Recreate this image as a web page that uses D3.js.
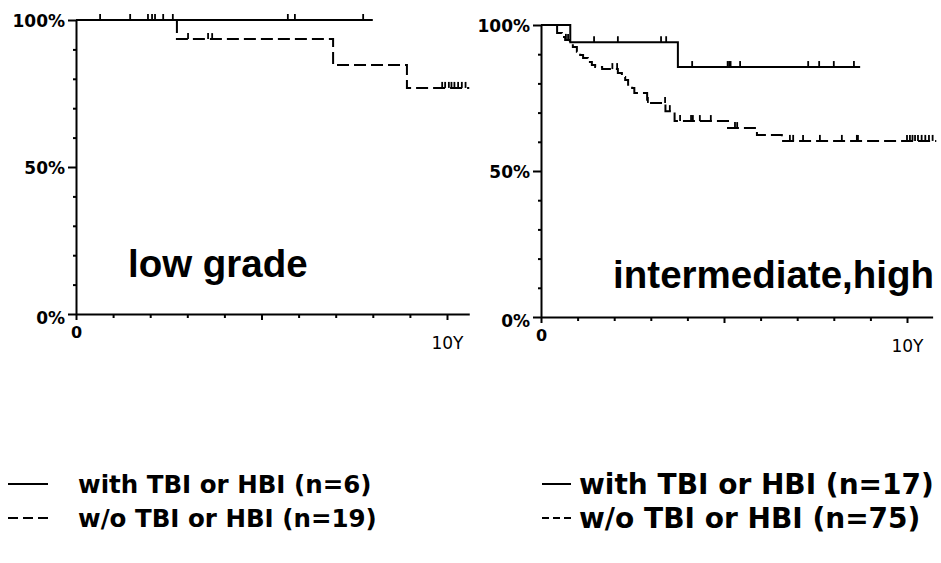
<!DOCTYPE html>
<html>
<head>
<meta charset="utf-8">
<script src="https://cdn.jsdelivr.net/npm/d3@7"></script>
<style>
  body { margin: 0; background: #fff; }
  svg { display: block; }
</style>
</head>
<body>
<div id="chart"></div>
<script>
// survival curves (time in years, survival in %)
const lowWithT = [0, 8.0];
const lowWithS = [100, 100];
const lowWithCensor = [1.46, 2.05, 5.71, 5.90, 7.74];

const lowWoT = [0, 2.72, 6.93, 8.92, 10.6];
const lowWoS = [100, 93.5, 84.7, 76.9, 76.9];
const lowWoCensor = [0.65, 1.94, 2.13, 2.35, 2.61, 3.02, 3.56, 3.67,
  9.87, 9.95, 10.05, 10.12, 10.2, 10.3, 10.4, 10.5];

const hiWithT = [0, 0.8, 3.74, 8.72];
const hiWithS = [100, 94.1, 85.6, 85.6];
const hiWithCensor = [1.45, 2.1, 3.28, 3.42, 4.13, 5.10, 5.14, 5.18, 5.44,
  7.3, 7.6, 8.0, 8.55];

const hiWoT = [0, 0.44, 0.57, 0.66, 0.79, 0.87, 0.98, 1.07, 1.15, 1.28, 1.39,
  1.48, 1.67, 2.10, 2.21, 2.30, 2.38, 2.49, 2.55, 2.90, 3.40, 3.65, 5.11,
  5.90, 6.58, 10.8];
const hiWoS = [100, 97.3, 95.9, 94.9, 93.8, 92.5, 90.8, 89.7, 88.7, 87.3, 86.3,
  85.6, 84.9, 83.6, 82.2, 81.2, 79.5, 78.4, 76.7, 73.3, 70.5, 67.1, 64.7,
  62.3, 60.3, 60.3];
const hiWoCensor = [0.68, 0.74, 1.95, 2.08, 2.92, 3.39, 3.52, 3.80, 4.10, 4.15,
  4.34, 4.64, 5.30, 5.36, 6.80, 6.89, 7.16, 7.62, 8.22, 8.63, 8.66,
  10.0, 10.08, 10.15, 10.22, 10.3, 10.4, 10.5, 10.6, 10.7];

const yTicks = [0, 10, 20, 30, 40, 50, 60, 70, 80, 90, 100];
const xTicks = [0, 1, 2, 3, 4, 5, 6, 7, 8, 9, 10];
const panelTitles = ["low grade", "intermediate,high"];
const legendLeft = ["with TBI or HBI (n=6)", "w/o TBI or HBI (n=19)"];
const legendRight = ["with TBI or HBI (n=17)", "w/o TBI or HBI (n=75)"];

const W = 941, H = 563;
const tickFont = "'DejaVu Sans', sans-serif";

const svg = d3.select("#chart").append("svg")
    .attr("width", W)
    .attr("height", H);

function drawPanel(p) {
    const x = d3.scaleLinear().domain([0, p.xMax]).range([p.x0, p.x0 + p.xMax * p.pxYear]);
    const y = d3.scaleLinear().domain([0, 100]).range([p.y0, p.y100]);
    const g = svg.append("g");

    // y axis
    const ya = g.append("g")
        .attr("transform", `translate(${p.x0},0)`)
        .call(d3.axisLeft(y).tickValues(yTicks).tickSizeOuter(0)
            .tickFormat(d => d % 50 === 0 ? d + "%" : ""));
    ya.select(".domain").attr("stroke-width", 2);
    ya.selectAll(".tick line")
        .attr("x2", d => d % 50 === 0 ? -8 : -3)
        .attr("stroke-width", 2);
    ya.selectAll(".tick text")
        .attr("x", -11)
        .attr("dy", d => d === 0 ? "0.55em" : "0.36em")
        .style("font-family", tickFont)
        .style("font-weight", "bold")
        .style("font-size", "17px")
        .attr("fill", "#000");

    // x axis
    const xa = g.append("g")
        .attr("transform", `translate(0,${p.y0})`)
        .call(d3.axisBottom(x).tickValues(xTicks).tickSizeOuter(0)
            .tickFormat(d => d === 0 ? "0" : d === 10 ? "10Y" : ""));
    xa.select(".domain").attr("stroke-width", 2);
    xa.selectAll(".tick line")
        .attr("y2", d => d % 5 === 0 ? 6 : 4)
        .attr("stroke-width", 2);
    xa.selectAll(".tick text")
        .attr("y", d => d === 0 ? 24 : 35)
        .attr("dy", 0)
        .style("font-family", tickFont)
        .style("font-weight", d => d === 0 ? "bold" : "normal")
        .style("font-size", d => d === 0 ? "16px" : "17px")
        .attr("fill", "#000");

    const line = d3.line()
        .x(d => x(d[0]))
        .y(d => y(d[1]))
        .curve(d3.curveStepAfter);

    p.curves.forEach(c => {
        g.append("path")
            .datum(d3.zip(c.t, c.s))
            .attr("fill", "none")
            .attr("stroke", "#000")
            .attr("stroke-width", 2)
            .attr("stroke-dasharray", c.dash ? "12,5" : null)
            .attr("d", line);

        // censor marks sit on the curve at the survival value in force
        g.selectAll(null)
            .data(c.censor)
            .enter()
            .append("line")
            .attr("x1", d => x(d))
            .attr("x2", d => x(d))
            .attr("y1", d => y(c.s[d3.bisectRight(c.t, d) - 1]))
            .attr("y2", d => y(c.s[d3.bisectRight(c.t, d) - 1]) - 6)
            .attr("stroke", "#000")
            .attr("stroke-width", 1.8);
    });

    g.append("text")
        .attr("x", p.titleX)
        .attr("y", p.titleY)
        .attr("text-anchor", p.titleAnchor)
        .style("font-family", "'Liberation Sans', Arial, sans-serif")
        .style("font-weight", "bold")
        .style("font-size", "38.5px")
        .text(p.title);
}

drawPanel({
    x0: 76, y0: 314, y100: 20, pxYear: 37.1, xMax: 10.6,
    title: panelTitles[0], titleX: 128, titleY: 277, titleAnchor: "start",
    curves: [
        { t: lowWoT, s: lowWoS, censor: lowWoCensor, dash: true },
        { t: lowWithT, s: lowWithS, censor: lowWithCensor, dash: false }
    ]
});

drawPanel({
    x0: 541, y0: 317, y100: 25, pxYear: 36.6, xMax: 10.7,
    title: panelTitles[1], titleX: 934, titleY: 288, titleAnchor: "end",
    curves: [
        { t: hiWoT, s: hiWoS, censor: hiWoCensor, dash: true },
        { t: hiWithT, s: hiWithS, censor: hiWithCensor, dash: false }
    ]
});

// legends
function drawLegend(labels, lx0, lx1, tx, rows, size, dash) {
    labels.forEach((lab, i) => {
        svg.append("line")
            .attr("x1", lx0).attr("x2", lx1)
            .attr("y1", rows[i]).attr("y2", rows[i])
            .attr("stroke", "#000")
            .attr("stroke-width", 2)
            .attr("stroke-dasharray", i === 1 ? dash : null);
        svg.append("text")
            .attr("x", tx)
            .attr("y", rows[i])
            .attr("dy", "0.36em")
            .style("font-family", tickFont)
            .style("font-weight", "bold")
            .style("font-size", size)
            .text(lab);
    });
}

drawLegend(legendLeft, 8, 48, 78, [484, 518], "24.5px", "10,5");
drawLegend(legendRight, 542, 571, 579, [484, 518], "28px", "7,4");
</script>
</body>
</html>
